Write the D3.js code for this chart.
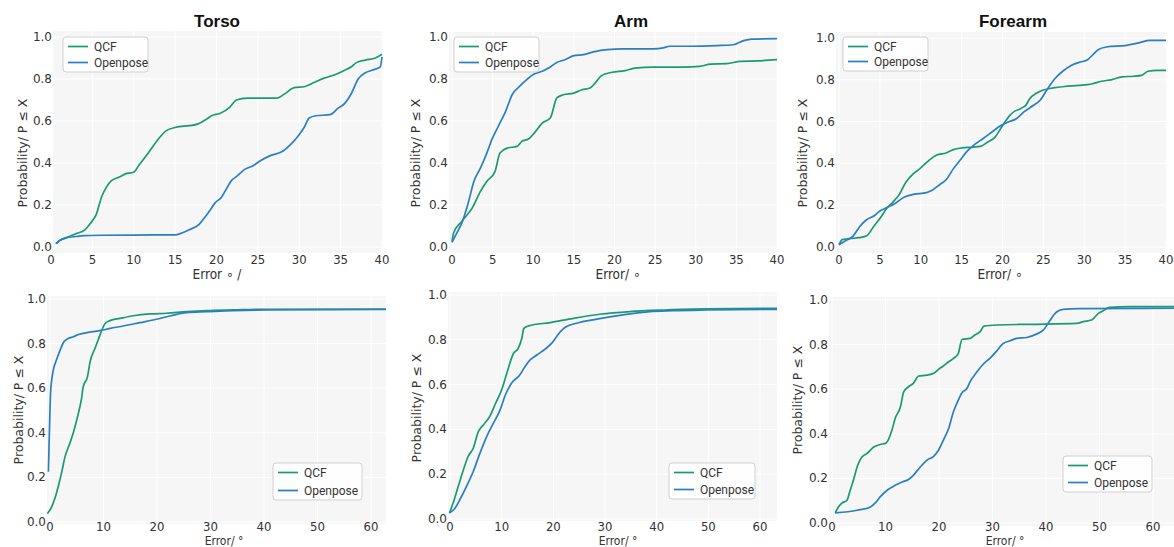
<!DOCTYPE html>
<html><head><meta charset="utf-8">
<script src="https://cdn.jsdelivr.net/npm/d3@7"></script>
<style>body{margin:0;background:#fff} svg{display:block}</style>
</head><body><svg id="c" width="1174" height="547"></svg>
<script>
// ---------- data ----------
const seriesNames = ["QCF", "Openpose"];
const xTicksTop = [0, 5, 10, 15, 20, 25, 30, 35, 40];
const xTicksBottom = [0, 10, 20, 30, 40, 50, 60];
const yTicks = [0, 0.2, 0.4, 0.6, 0.8, 1.0];

const torsoTopQCF = [[0.6,0.016],[1,0.03],[2,0.047],[3,0.063],[4.1,0.082],[4.7,0.11],[5.5,0.158],[6.1,0.237],[6.7,0.285],[7.3,0.316],[8.2,0.332],[9,0.348],[10,0.356],[10.6,0.388],[11.8,0.45],[13.1,0.52],[13.9,0.553],[15.1,0.57],[16.7,0.578],[17.7,0.585],[18.8,0.609],[19.4,0.625],[20.4,0.636],[21.6,0.665],[22.4,0.70],[23.7,0.709],[24.9,0.709],[27.3,0.709],[28.2,0.728],[29.4,0.759],[30.6,0.763],[31.8,0.783],[33,0.804],[34.3,0.82],[35.5,0.842],[36.3,0.858],[36.9,0.878],[38,0.89],[39.2,0.9],[40,0.918]];
const torsoTopOP = [[0.6,0.016],[1,0.03],[2,0.045],[3,0.05],[4,0.054],[6,0.056],[10,0.057],[15.1,0.058],[15.9,0.068],[16.7,0.082],[17.9,0.108],[18.6,0.142],[19.2,0.174],[19.8,0.209],[20.6,0.237],[21.2,0.277],[21.8,0.316],[22.4,0.335],[23.5,0.372],[24.3,0.384],[25.3,0.411],[26.5,0.435],[28,0.456],[29,0.49],[29.8,0.525],[30.6,0.57],[31.2,0.614],[32,0.625],[33.7,0.63],[34.7,0.661],[35.5,0.684],[36.3,0.731],[37.1,0.799],[38,0.83],[38.8,0.842],[39.8,0.858],[40,0.905]];

const armTopQCF = [[0,0.027],[0.2,0.067],[1.2,0.122],[2.5,0.186],[3.5,0.265],[4.3,0.313],[5.3,0.36],[5.9,0.448],[6.8,0.471],[8,0.479],[8.6,0.503],[9.4,0.514],[10.2,0.546],[11.1,0.59],[12.1,0.614],[12.9,0.71],[13.7,0.725],[15,0.733],[16,0.749],[17,0.757],[17.6,0.78],[18.4,0.816],[19.7,0.832],[21.3,0.84],[22.5,0.852],[24.8,0.857],[28.5,0.857],[30.5,0.86],[31.8,0.871],[33.8,0.873],[35.5,0.884],[37.5,0.886],[40,0.892]];
const armTopOP = [[0,0.022],[0.6,0.067],[1.2,0.114],[2,0.21],[2.7,0.313],[3.5,0.376],[4.3,0.448],[4.9,0.511],[5.7,0.575],[6.6,0.646],[7.4,0.725],[8.4,0.768],[9.2,0.797],[10,0.821],[11.1,0.837],[11.9,0.852],[12.9,0.879],[13.9,0.892],[15,0.911],[16.2,0.916],[17.4,0.929],[19.1,0.94],[21.1,0.943],[24.8,0.943],[26,0.948],[26.8,0.956],[29.3,0.956],[32.6,0.959],[34.6,0.963],[35.9,0.983],[36.9,0.99],[40,0.992]];

const forearmTopQCF = [[0,0.011],[0.4,0.035],[1.3,0.04],[2.5,0.045],[3.4,0.054],[4.2,0.096],[5,0.136],[5.8,0.183],[6.6,0.215],[7.3,0.247],[8.2,0.311],[9.1,0.351],[9.9,0.375],[10.9,0.411],[11.9,0.439],[13.1,0.45],[14,0.466],[15,0.474],[16.4,0.478],[17.4,0.483],[18.2,0.502],[19.1,0.526],[19.9,0.574],[20.9,0.63],[21.5,0.65],[22.1,0.66],[22.9,0.681],[23.3,0.708],[24.2,0.737],[25,0.751],[26.2,0.761],[27.6,0.768],[29.3,0.773],[30.9,0.78],[32.1,0.793],[33.3,0.8],[34.6,0.814],[36,0.817],[37,0.821],[37.8,0.841],[38.9,0.845],[40,0.845]];
const forearmTopOP = [[0,0.011],[0.9,0.032],[1.7,0.051],[2.5,0.096],[3.3,0.128],[4.4,0.152],[5,0.172],[5.8,0.188],[6.8,0.207],[8,0.239],[9.1,0.252],[10.7,0.26],[11.5,0.274],[12.3,0.298],[13.1,0.322],[14,0.375],[14.8,0.415],[15.6,0.455],[16.6,0.491],[17.6,0.518],[18.7,0.55],[19.7,0.579],[20.7,0.598],[21.7,0.614],[22.7,0.649],[23.8,0.678],[24.6,0.702],[25.4,0.75],[26.4,0.805],[27.4,0.842],[28.4,0.869],[29.5,0.885],[30.3,0.893],[31.1,0.922],[31.7,0.944],[32.7,0.957],[35.2,0.965],[36.8,0.978],[38,0.989],[40,0.989]];

const torsoBotQCF = [[-0.5,0.037],[0.3,0.067],[0.9,0.105],[1.6,0.165],[2.2,0.225],[2.8,0.292],[3.7,0.352],[4.4,0.404],[5.3,0.487],[5.9,0.554],[6.2,0.606],[7,0.651],[7.5,0.719],[8.4,0.778],[9,0.816],[9.7,0.861],[10.3,0.89],[11.2,0.903],[13.1,0.913],[15.6,0.925],[18.7,0.933],[21.8,0.936],[25.5,0.943],[29.3,0.948],[34.3,0.951],[40.5,0.954],[63,0.955]];
const torsoBotOP = [[-0.3,0.225],[-0.1,0.412],[0.1,0.576],[0.5,0.666],[1.2,0.726],[1.9,0.771],[2.6,0.808],[3.4,0.823],[4.4,0.831],[5.3,0.841],[6.9,0.849],[9.3,0.858],[11.2,0.868],[13.7,0.879],[16.8,0.894],[19.9,0.909],[23.1,0.928],[25.5,0.939],[29.3,0.943],[34.3,0.948],[40.5,0.951],[63,0.953]];

const armBotQCF = [[-0.1,0.027],[0.6,0.071],[1.6,0.146],[2.6,0.22],[3.5,0.279],[4.5,0.316],[5.5,0.391],[6.5,0.421],[7.7,0.458],[8.7,0.51],[10,0.577],[11,0.651],[12.3,0.74],[13.2,0.762],[13.9,0.807],[14.3,0.851],[15.2,0.862],[19.4,0.877],[23.9,0.896],[29,0.914],[34.8,0.926],[41.3,0.933],[49.7,0.938],[63.5,0.941]];
const armBotOP = [[-0.1,0.027],[1,0.049],[1.9,0.086],[3.2,0.146],[4.5,0.212],[5.8,0.294],[7.1,0.368],[8.4,0.428],[9.7,0.487],[10.6,0.547],[11.9,0.606],[13.5,0.643],[14.5,0.68],[15.5,0.71],[16.8,0.732],[18.4,0.758],[19.7,0.785],[21,0.826],[22.3,0.856],[24.5,0.874],[28.4,0.892],[33.5,0.911],[38.7,0.926],[43.2,0.93],[49.7,0.933],[63.5,0.936]];

const forearmBotQCF = [[0.6,0.045],[1.2,0.072],[1.9,0.09],[2.8,0.102],[3.4,0.147],[4,0.192],[4.8,0.259],[5.6,0.296],[6.5,0.311],[7.8,0.341],[9,0.352],[10.1,0.359],[11.2,0.416],[11.8,0.469],[12.8,0.521],[13.4,0.588],[14.3,0.611],[15.2,0.626],[16.2,0.659],[17.7,0.663],[19,0.671],[19.9,0.689],[20.8,0.704],[21.8,0.723],[22.7,0.738],[23.6,0.76],[24.3,0.823],[25.8,0.828],[26.7,0.843],[27.7,0.858],[28.4,0.883],[30.8,0.888],[37,0.891],[45.7,0.895],[47,0.903],[48.5,0.91],[49.8,0.94],[50.7,0.952],[51.9,0.967],[55.7,0.97],[64.5,0.97]];
const forearmBotOP = [[0.6,0.045],[4.7,0.057],[7.2,0.072],[8.1,0.09],[9,0.117],[10.3,0.147],[11.8,0.169],[13.1,0.184],[14.3,0.195],[15.2,0.214],[16.5,0.251],[17.7,0.281],[19,0.299],[19.9,0.326],[20.8,0.371],[21.8,0.424],[22.7,0.499],[23.6,0.551],[24.3,0.584],[25.2,0.603],[25.8,0.633],[27.1,0.678],[28.3,0.713],[29.5,0.738],[30.8,0.772],[32,0.805],[33.3,0.817],[34.5,0.828],[36.4,0.832],[38.2,0.847],[39.5,0.865],[40.7,0.907],[41.7,0.94],[43.2,0.958],[46.3,0.961],[64.5,0.963]];

// ---------- layout ----------
const colors = ["#1a9a74", "#2a7fc2"];
const panels = [
  {title:"Torso", data:[torsoTopQCF, torsoTopOP], xt:xTicksTop, xd:[0,40], xr:[51,382], yr:[247,37], bg:[53,383,31,253], leg:[63,37,85,35], tx:217, ylx:27, ylc:153, xl:"Error ∘ /", xlx:217, xly:279, tly:264},
  {title:"Arm", data:[armTopQCF, armTopOP], xt:xTicksTop, xd:[0,40], xr:[452,777], yr:[247,37], bg:[449,777,32,253], leg:[454,37,85,35], tx:631, ylx:420, ylc:153, xl:"Error/ ∘", xlx:618, xly:279, tly:264},
  {title:"Forearm", data:[forearmTopQCF, forearmTopOP], xt:xTicksTop, xd:[0,40], xr:[839,1166], yr:[247,38], bg:[836,1167,32,253], leg:[843,37,85,34], tx:1013, ylx:807, ylc:153, xl:"Error/ ∘", xlx:1000, xly:279, tly:264},
  {title:null, data:[torsoBotQCF, torsoBotOP], xt:xTicksBottom, xd:[0,60], xr:[50,371], yr:[522,299], bg:[47,386,296,524], leg:[273,463,89,37], ylx:23, ylc:410, xl:"Error/ °", xlx:224, xly:544.5, tly:531},
  {title:null, data:[armBotQCF, armBotOP], xt:xTicksBottom, xd:[0,60], xr:[450,760], yr:[519,295], bg:[448,777,292,521], leg:[669,463,86,36], ylx:421, ylc:408, xl:"Error/ °", xlx:618, xly:544.5, tly:531},
  {title:null, data:[forearmBotQCF, forearmBotOP], xt:xTicksBottom, xd:[0,60], xr:[832,1153], yr:[523,300], bg:[829,1174,297,526], leg:[1063,456,89,36], ylx:802, ylc:400, xl:"Error/ °", xlx:1005, xly:544.5, tly:531}
];

const svg = d3.select("#c");
const defs = svg.append("defs");

panels.forEach((p, i) => {
  const x = d3.scaleLinear().domain(p.xd).range(p.xr);
  const y = d3.scaleLinear().domain([0,1]).range(p.yr);
  const [l, r, t, b] = p.bg;
  const g = svg.append("g");
  g.append("rect").attr("x", l).attr("y", t).attr("width", r - l).attr("height", b - t).attr("fill", "#f6f6f6");
  // grid
  g.selectAll(".vg").data(p.xt).enter().append("line")
    .attr("x1", d => x(d)).attr("x2", d => x(d)).attr("y1", t).attr("y2", b)
    .attr("stroke", "#fff").attr("stroke-width", 1);
  g.selectAll(".hg").data(yTicks).enter().append("line")
    .attr("x1", l).attr("x2", r).attr("y1", d => y(d)).attr("y2", d => y(d))
    .attr("stroke", "#fff").attr("stroke-width", 1);
  // tick labels
  g.selectAll(".xt").data(p.xt).enter().append("text")
    .attr("x", d => x(d)).attr("y", p.tly).attr("text-anchor", "middle")
    .attr("font-family", "'Liberation Sans Narrow','DejaVu Sans Condensed',Roboto,sans-serif")
    .attr("font-size", 13).attr("fill", "#333").text(d => d);
  g.selectAll(".yt").data(yTicks).enter().append("text")
    .attr("x", l - 1).attr("y", d => y(d) + 4).attr("text-anchor", "end")
    .attr("font-family", "'DejaVu Sans',sans-serif").attr("font-size", 12)
    .attr("fill", "#333").text(d => d3.format(".1f")(d));
  // clip
  defs.append("clipPath").attr("id", "cp" + i).append("rect")
    .attr("x", l).attr("y", t - 2).attr("width", r - l).attr("height", b - t + 4);
  const line = d3.line().x(d => x(d[0])).y(d => y(d[1])).curve(d3.curveMonotoneX);
  p.data.forEach((s, k) => {
    g.append("path").attr("d", line(s)).attr("fill", "none")
      .attr("stroke", colors[k]).attr("stroke-width", 1.7)
      .attr("clip-path", `url(#cp${i})`);
  });
  // title
  if (p.title) {
    g.append("text").attr("x", p.tx).attr("y", 27).attr("text-anchor", "middle")
      .attr("font-family", "'Liberation Sans',Arial,sans-serif").attr("font-weight", "bold")
      .attr("font-size", 17).attr("fill", "#111").text(p.title);
  }
  // axis labels
  g.append("text").attr("transform", `translate(${p.ylx},${p.ylc}) rotate(-90)`)
    .attr("text-anchor", "middle").attr("font-family", "'DejaVu Sans',sans-serif")
    .attr("font-size", 12.5).attr("fill", "#333").text("Probability/ P ≤ X");
  g.append("text").attr("x", p.xlx).attr("y", p.xly).attr("text-anchor", "middle")
    .attr("font-family", "'Liberation Sans Narrow','DejaVu Sans Condensed',Roboto,sans-serif")
    .attr("font-size", p.title ? 13.5 : 12).attr("fill", "#333").text(p.xl);
  // legend
  const [lx, ly, lw, lh] = p.leg;
  const lg = g.append("g");
  lg.append("rect").attr("x", lx).attr("y", ly).attr("width", lw).attr("height", lh)
    .attr("rx", 3).attr("fill", "#fff").attr("fill-opacity", 0.85)
    .attr("stroke", "#d0d0d0").attr("stroke-width", 1);
  seriesNames.forEach((n, k) => {
    const yy = ly + 9.5 + k * (lh - 19);
    lg.append("line").attr("x1", lx + 5).attr("x2", lx + 25).attr("y1", yy).attr("y2", yy)
      .attr("stroke", colors[k]).attr("stroke-width", 1.7);
    lg.append("text").attr("x", lx + 31).attr("y", yy + 4.5)
      .attr("font-family", "Roboto,'Liberation Sans',sans-serif").attr("font-size", 12)
      .attr("fill", "#333").text(n);
  });
});
</script></body></html>
